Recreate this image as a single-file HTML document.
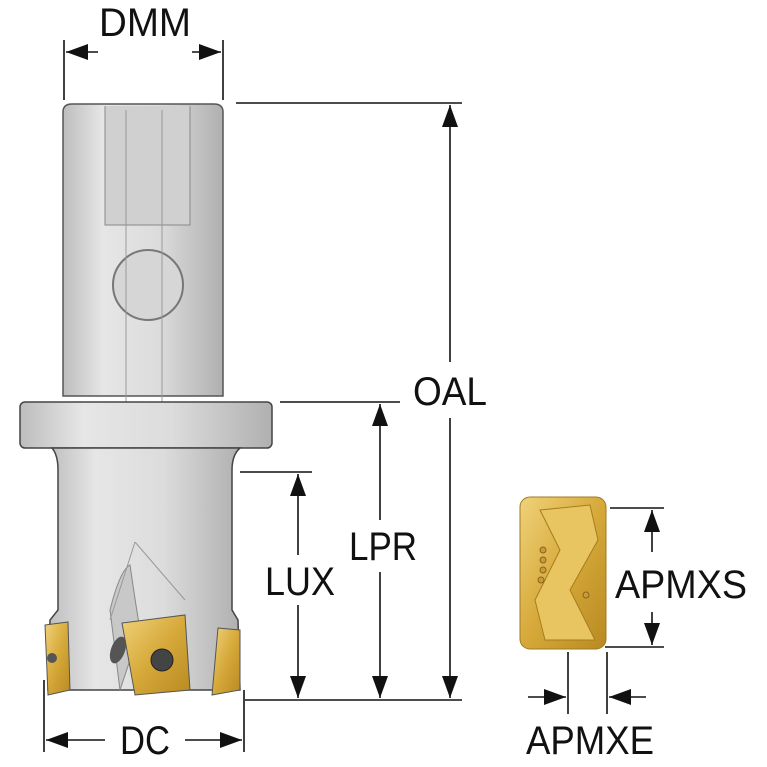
<!DOCTYPE html>
<html><head><meta charset="utf-8"><style>body{margin:0;background:#fff}svg{display:block}</style></head><body>
<svg width="767" height="767" viewBox="0 0 767 767" xmlns="http://www.w3.org/2000/svg" font-family="Liberation Sans, sans-serif">
<defs>
<linearGradient id="g" x1="0" x2="1"><stop offset="0" stop-color="#bdbdbd"/><stop offset="0.25" stop-color="#e6e6e6"/><stop offset="0.6" stop-color="#dcdcdc"/><stop offset="1" stop-color="#b0b0b0"/></linearGradient>
<linearGradient id="y" x1="0" x2="1" y1="0" y2="1"><stop offset="0" stop-color="#f0d27a"/><stop offset="0.5" stop-color="#d6a93a"/><stop offset="1" stop-color="#b88a22"/></linearGradient>
<marker id="a" viewBox="0 0 22 16" refX="22" refY="8" markerWidth="22" markerHeight="16" orient="auto-start-reverse" markerUnits="userSpaceOnUse"><path d="M0,0L22,8L0,16z" fill="#111"/></marker>
</defs>
<path d="M63,112 Q63,104 72,104 L214,104 Q223,104 223,112 L223,396 L63,396 Z" fill="url(#g)" stroke="#555" stroke-width="1.5"/>
<path d="M105,106 L105,225 L190,225 L190,106" fill="#d0d0d0" stroke="#888"/>
<circle cx="148" cy="285" r="35" fill="#d6d6d6" stroke="#777" stroke-width="2"/>
<line x1="126" y1="110" x2="126" y2="530" stroke="#999"/><line x1="162" y1="110" x2="162" y2="530" stroke="#999"/>
<rect x="20" y="402" width="252" height="46" rx="5" fill="url(#g)" stroke="#444" stroke-width="1.5"/>
<path d="M52,448 Q58,455 58,470 L58,610 L50,620 L48,690 L240,690 L238,620 L232,610 L232,470 Q232,455 240,448 Z" fill="url(#g)" stroke="#444" stroke-width="1.5"/>
<path d="M110,610 Q120,570 130,565 Q135,600 140,630 L120,690 Z" fill="#c8c8c8" stroke="#888"/>
<path d="M135,542 L185,600 M135,542 L110,620" stroke="#999" fill="none"/>
<path d="M45,625 L68,622 L70,690 L48,695 Z" fill="url(#y)" stroke="#555"/>
<path d="M122,623 L185,615 L190,690 L135,695 Z" fill="url(#y)" stroke="#555"/>
<circle cx="162" cy="660" r="11" fill="#444" stroke="#222"/>
<circle cx="52" cy="658" r="5" fill="#555"/>
<path d="M218,628 L240,630 L240,690 L212,695 Z" fill="url(#y)" stroke="#555"/>
<ellipse cx="118" cy="650" rx="7" ry="14" fill="#555" transform="rotate(20 118 650)"/>
<rect x="520" y="497" width="86" height="152" rx="10" fill="url(#y)" stroke="#a07a20"/>
<path d="M540,510 L590,505 L598,540 L570,590 L595,640 L545,640 L535,600 L560,550 Z" fill="#e8c560" stroke="#a67d1e"/>
<g fill="#c9993a" stroke="#8a6518"><circle cx="543" cy="550" r="3"/><circle cx="543" cy="560" r="3"/><circle cx="543" cy="570" r="3"/><circle cx="541" cy="580" r="3"/><circle cx="586" cy="595" r="3"/></g>
<g stroke="#111" stroke-width="1.6" fill="none">
<line x1="64" y1="40" x2="64" y2="100"/><line x1="223" y1="40" x2="223" y2="100"/>
<line x1="66" y1="52" x2="98" y2="52" marker-start="url(#a)"/><line x1="192" y1="52" x2="221" y2="52" marker-end="url(#a)"/>
<line x1="236" y1="103" x2="462" y2="103"/>
<line x1="450" y1="105" x2="450" y2="362" marker-start="url(#a)"/><line x1="450" y1="418" x2="450" y2="698" marker-end="url(#a)"/>
<line x1="280" y1="402" x2="400" y2="402"/>
<line x1="380" y1="404" x2="380" y2="520" marker-start="url(#a)"/><line x1="380" y1="572" x2="380" y2="698" marker-end="url(#a)"/>
<line x1="240" y1="472" x2="312" y2="472"/>
<line x1="298" y1="474" x2="298" y2="555" marker-start="url(#a)"/><line x1="298" y1="605" x2="298" y2="698" marker-end="url(#a)"/>
<line x1="245" y1="700" x2="462" y2="700"/>
<line x1="44" y1="680" x2="44" y2="752"/><line x1="244" y1="690" x2="244" y2="752"/>
<line x1="46" y1="740" x2="105" y2="740" marker-start="url(#a)"/><line x1="185" y1="740" x2="242" y2="740" marker-end="url(#a)"/>
<line x1="610" y1="508" x2="664" y2="508"/><line x1="605" y1="647" x2="664" y2="647"/>
<line x1="652" y1="510" x2="652" y2="552" marker-start="url(#a)"/><line x1="652" y1="612" x2="652" y2="645" marker-end="url(#a)"/>
<line x1="568" y1="652" x2="568" y2="714"/><line x1="607" y1="652" x2="607" y2="714"/>
<line x1="528" y1="697" x2="566" y2="697" marker-end="url(#a)"/><line x1="646" y1="697" x2="609" y2="697" marker-end="url(#a)"/>
</g>
<g fill="#111" font-size="40" text-anchor="middle">
<text x="145" y="36" textLength="92" lengthAdjust="spacingAndGlyphs">DMM</text>
<text x="450" y="405" textLength="74" lengthAdjust="spacingAndGlyphs">OAL</text>
<text x="383" y="560" textLength="68" lengthAdjust="spacingAndGlyphs">LPR</text>
<text x="300" y="595" textLength="70" lengthAdjust="spacingAndGlyphs">LUX</text>
<text x="145" y="754" textLength="50" lengthAdjust="spacingAndGlyphs">DC</text>
<text x="681" y="598" textLength="132" lengthAdjust="spacingAndGlyphs">APMXS</text>
<text x="590" y="754" textLength="128" lengthAdjust="spacingAndGlyphs">APMXE</text>
</g>
</svg>
</body></html>
